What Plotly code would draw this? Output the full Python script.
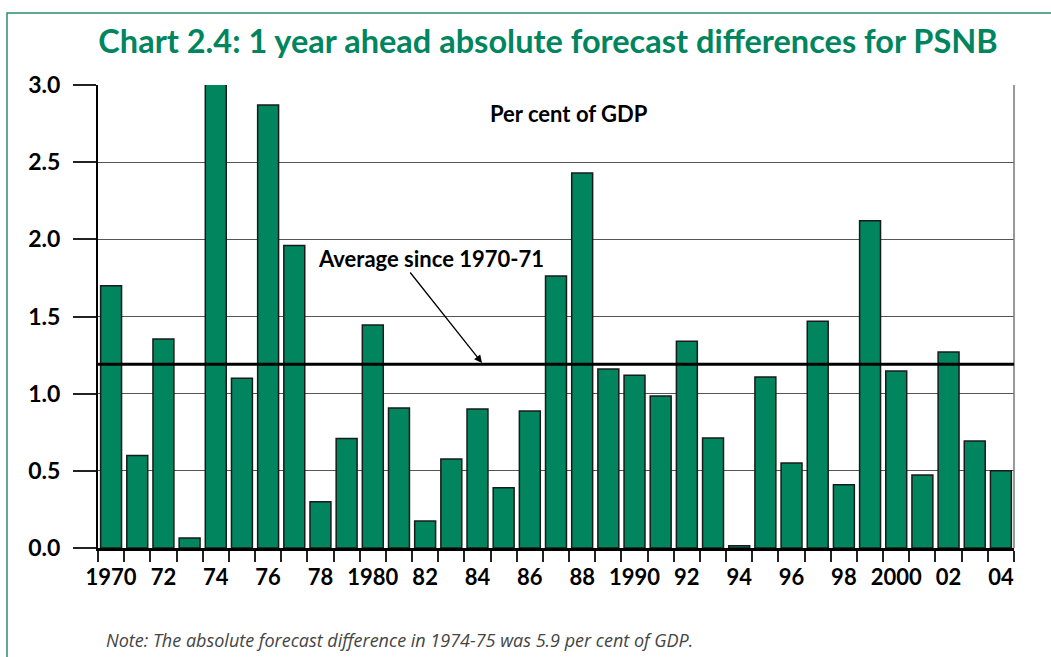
import plotly.graph_objects as go

years = list(range(1970, 2005))
values = [1.70, 0.60, 1.355, 0.065, 5.9, 1.10, 2.87, 1.96, 0.30, 0.71,
          1.445, 0.907, 0.175, 0.577, 0.90, 0.39, 0.888, 1.763, 2.43, 1.16,
          1.12, 0.985, 1.34, 0.713, 0.015, 1.108, 0.55, 1.47, 0.41, 2.12,
          1.147, 0.473, 1.27, 0.693, 0.50]
average = 1.19
tick_years = list(range(1970, 2005, 2))
tick_labels = ["1970", "72", "74", "76", "78", "1980", "82", "84", "86", "88",
               "1990", "92", "94", "96", "98", "2000", "02", "04"]
y_ticks = [0.0, 0.5, 1.0, 1.5, 2.0, 2.5, 3.0]

GREEN = "#00855f"
FONT = "Lato"

W, H = 1051, 657
L, R, T, B = 98, 37, 85, 109
pw, ph = W - L - R, H - T - B

def px(x):
    return (x - L) / pw

def py(y):
    return (H - B - y) / ph

fig = go.Figure()
fig.add_trace(go.Bar(
    x=years, y=values,
    marker=dict(color=GREEN, line=dict(color="#1a1a1a", width=1.5)),
    width=0.8,
))

fig.update_layout(
    width=W, height=H,
    margin=dict(l=L, r=R, t=T, b=B),
    paper_bgcolor="white", plot_bgcolor="white",
    showlegend=False,
    font=dict(family=FONT, color="black"),
    title=dict(
        text="Chart 2.4: 1 year ahead absolute forecast differences for PSNB",
        x=px(548), xanchor="center", xref="paper",
        y=1 - 42 / H, yanchor="middle",
        font=dict(family=FONT, size=32.5, color=GREEN, weight="bold"),
    ),
    xaxis=dict(
        range=[1969.5, 2004.5],
        tickmode="array", tickvals=tick_years, ticktext=tick_labels,
        ticks="outside", ticklen=8, tickcolor="rgba(0,0,0,0)",
        showgrid=False, zeroline=False,
        showline=True, linecolor="black", linewidth=2.5,
        tickfont=dict(family=FONT, size=22, color="black", weight="bold"),
        minor=dict(tickmode="linear", tick0=1969.5, dtick=1, ticks="outside",
                   ticklen=11, tickcolor="#222", tickwidth=1.5, showgrid=False),
    ),
    yaxis=dict(
        range=[0, 3.0],
        tickmode="array", tickvals=y_ticks,
        ticktext=[f"{v:.1f}" for v in y_ticks],
        ticks="outside", ticklen=23, tickcolor="#222", tickwidth=1.5,
        ticklabelstandoff=8,
        showgrid=True, gridcolor="#555", gridwidth=1.2,
        zeroline=False,
        showline=True, linecolor="black", linewidth=2,
        tickfont=dict(family=FONT, size=23, color="black", weight="bold"),
    ),
    shapes=[
        dict(type="rect", xref="paper", yref="paper",
             x0=px(7), x1=px(1070), y0=py(700), y1=py(13),
             line=dict(color="#2a8f70", width=1.5), layer="below"),
        dict(type="line", xref="paper", yref="paper", x0=1, x1=1, y0=0, y1=1,
             line=dict(color="#777", width=1.5)),
        dict(type="line", xref="paper", yref="y", x0=0, x1=1,
             y0=average, y1=average, line=dict(color="black", width=3),
             layer="above"),
    ],
    annotations=[
        dict(text="<b>Per cent of GDP</b>", xref="paper", yref="paper",
             x=px(569), y=py(113), xanchor="center", yanchor="middle",
             showarrow=False, font=dict(family=FONT, size=22, color="black")),
        dict(text="<b>Average since 1970-71</b>", xref="paper", yref="paper",
             x=px(316), y=py(258), xanchor="left", yanchor="middle",
             showarrow=False, font=dict(family=FONT, size=22, color="black")),
        dict(text="", xref="paper", yref="paper",
             x=px(482), y=py(363), ax=409 - 482, ay=271 - 363,
             axref="pixel", ayref="pixel",
             showarrow=True, arrowhead=2, arrowsize=1.2, arrowwidth=1.3,
             arrowcolor="black"),
        dict(text="<i>Note: The absolute forecast difference in 1974-75 was 5.9 per cent of GDP.</i>",
             xref="paper", yref="paper", x=px(104), y=py(640),
             xanchor="left", yanchor="middle", showarrow=False,
             font=dict(family="Open Sans", size=18, color="#444", weight="normal")),
    ],
)

fig.write_html("out.html", config={"displayModeBar": False},
               post_script="document.body.style.margin='0';")
